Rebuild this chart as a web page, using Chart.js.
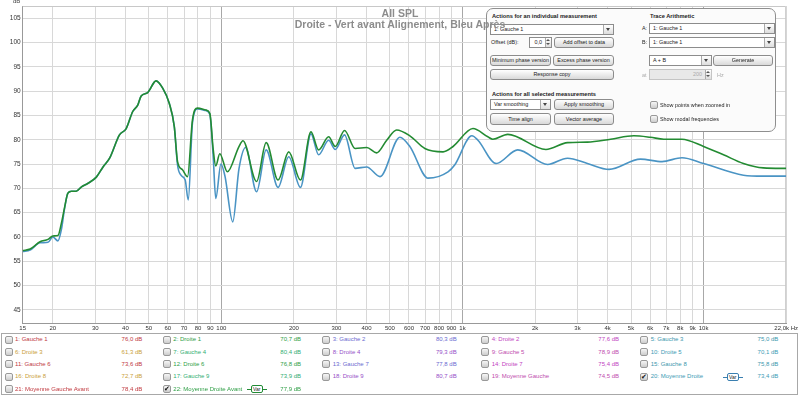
<!DOCTYPE html>
<html>
<head>
<meta charset="utf-8">
<script src="https://cdn.jsdelivr.net/npm/chart.js@4.4.1/dist/chart.umd.min.js"></script>
<style>
body { margin: 0; background: #fff; font-family: "Liberation Sans", Arial, sans-serif; }
#wrap { position: relative; width: 800px; height: 397px; overflow: hidden; }
#chart { position: absolute; left: 0; top: 0; }
.t { position: absolute; white-space: nowrap; font-size: 6px; line-height: 7px; color: #222; }
.p { font-size: 5.4px; }
.b { font-weight: bold; font-size: 5.7px; }
.title { position: absolute; left: 0; width: 800px; text-align: center; font-size: 10.5px; font-weight: bold; color: #8c8c8c; white-space: nowrap; z-index: 5; }
.panel { position: absolute; left: 486px; top: 8px; width: 290px; height: 124px; box-sizing: border-box; border: 1px solid #8f8f8f; border-radius: 7px; background: #fbfbfb; }
.btn { position: absolute; box-sizing: border-box; height: 11px; border: 1px solid #8c8c8c; border-radius: 3px; background: linear-gradient(#ffffff, #d9d9d9); font-size: 5.4px; line-height: 9px; text-align: center; color: #222; white-space: nowrap; overflow: hidden; }
.sel { position: absolute; box-sizing: border-box; height: 11px; border: 1px solid #8c8c8c; background: #fff; font-size: 5.4px; line-height: 9px; padding-left: 3px; color: #222; white-space: nowrap; }
.sel i { position: absolute; right: 0; top: 0; width: 9px; height: 9px; border-left: 1px solid #aaa; background: linear-gradient(#fff, #ddd); }
.sel i:after { content: ""; position: absolute; left: 2px; top: 3px; border-left: 2.5px solid transparent; border-right: 2.5px solid transparent; border-top: 3px solid #444; }
.spin { text-align: right; padding-right: 9px; }
.spin i { width: 5px; }
.spin i:after { left: 0; top: 1px; border-top: none; border-bottom: 2px solid #555; border-left-width: 2px; border-right-width: 2px; }
.spin i:before { content: ""; position: absolute; left: 0; top: 5px; border-left: 2px solid transparent; border-right: 2px solid transparent; border-top: 2px solid #555; }
.dis { background: #e8e8e8; color: #aaa; border-color: #c4c4c4; }
.cb { position: absolute; box-sizing: border-box; width: 8px; height: 8px; border: 1px solid #999; border-radius: 2px; background: linear-gradient(#f6f6f6, #cdcdcd); font-size: 7px; line-height: 6px; text-align: center; color: #111; }
#leg { position: absolute; left: 1px; top: 333px; width: 797px; height: 62px; box-sizing: border-box; border: 1px solid #a8a8a8; background: #fff; }
.var { position: absolute; height: 8px; }
.var .ln { position: absolute; left: 0; right: 0; top: 4px; height: 1px; }
.var .bx { position: absolute; left: 4px; right: 4px; top: 0; height: 8px; box-sizing: border-box; border: 1px solid; border-radius: 2px; background: #fff; font-size: 5px; line-height: 6px; text-align: center; color: #222; }
</style>
</head>
<body>
<div id="wrap">
  <canvas id="chart" width="800" height="333"></canvas>

  <div class="t" style="left:13px;top:-2px;color:#444">dB</div>

  <div class="panel"></div>
  <div class="t b" style="left:492px;top:13px">Actions for an individual measurement</div>
  <div class="sel" style="left:490px;top:24px;width:124px">1: Gauche 1<i></i></div>
  <div class="t p" style="left:491px;top:39px">Offset (dB):</div>
  <div class="sel spin" style="left:529px;top:37px;width:23px">0,0<i></i></div>
  <div class="btn" style="left:554px;top:37px;width:60px">Add offset to data</div>
  <div class="btn" style="left:490px;top:55px;width:61px">Minimum phase version</div>
  <div class="btn" style="left:553px;top:55px;width:61px">Excess phase version</div>
  <div class="btn" style="left:490px;top:69px;width:124px">Response copy</div>
  <div class="t b" style="left:492px;top:91px">Actions for all selected measurements</div>
  <div class="sel" style="left:490px;top:99px;width:61px">Var smoothing<i></i></div>
  <div class="btn" style="left:554px;top:99px;width:60px">Apply smoothing</div>
  <div class="btn" style="left:490px;top:113px;width:61px;height:12px;line-height:10px">Time align</div>
  <div class="btn" style="left:554px;top:113px;width:60px;height:12px;line-height:10px">Vector average</div>

  <div class="t b" style="left:650px;top:13px">Trace Arithmetic</div>
  <div class="t p" style="left:642px;top:25px">A:</div>
  <div class="sel" style="left:649px;top:23px;width:126px">1: Gauche 1<i></i></div>
  <div class="t p" style="left:642px;top:39px">B:</div>
  <div class="sel" style="left:649px;top:37px;width:126px">1: Gauche 1<i></i></div>
  <div class="sel" style="left:649px;top:55px;width:63px">A + B<i></i></div>
  <div class="btn" style="left:713px;top:55px;width:60px">Generate</div>
  <div class="t p" style="left:642px;top:72px;color:#aaa">at</div>
  <div class="sel spin dis" style="left:649px;top:69px;width:63px">200<i></i></div>
  <div class="t p" style="left:717px;top:72px;color:#aaa">Hz</div>
  <div class="cb" style="left:650px;top:101px"></div>
  <div class="t p" style="left:660px;top:102px">Show points when zoomed in</div>
  <div class="cb" style="left:650px;top:115px"></div>
  <div class="t p" style="left:660px;top:116px">Show modal frequencies</div>

  <div class="title" style="top:7px">All SPL</div>
  <div class="title" style="top:18px">Droite - Vert avant Alignement, Bleu Après</div>

  <div id="leg"></div>
</div>

<script>
// 22: Moyenne Droite Avant (green) and 20: Moyenne Droite (blue)
var greenFreq = [15, 16.1, 17.7, 19.1, 20.0, 21.0, 21.7, 22.4, 23.1, 23.9, 25.0, 26.3, 27.9, 30.3, 32.3, 34.4, 37.8, 40.3, 42.9, 45.0,
    46.5, 49.5, 53.6, 57.1, 60.8, 63.8, 65.8, 69.0, 72.4, 75.9, 79.6, 86.2, 89.6, 92.5, 94.8, 98.5, 105.9, 118.3, 122.9, 140,
    153.4, 171.9, 190.3, 212.8, 235.3, 253.2, 278.5, 296.7, 324.2, 358.8, 400.7, 440.7, 485, 533, 605, 698, 831, 914, 1105, 1274,
    1336, 1541, 2218, 2727, 3298, 4115, 5140, 6018, 6837, 8136, 10000, 12090, 14630, 17690, 22000];
var greenDb = [57.2, 57.5, 59.0, 59.5, 60.2, 60.3, 62.8, 66.2, 69.0, 69.4, 69.4, 70.3, 71.0, 72.3, 74.4, 76.2, 81.0, 82.3, 85.8, 87.1,
    89.0, 89.7, 92.1, 90.6, 87.5, 82.7, 75.5, 73.8, 72.4, 84.1, 86.5, 86.1, 85.4, 78.0, 74.6, 77.1, 73.4, 78.6, 79.8, 71.4,
    79.4, 71.7, 77.5, 71.7, 81.6, 77.9, 80.6, 78.6, 81.9, 78.2, 78.4, 77.3, 79.9, 82.0, 80.8, 78.2, 77.5, 78.6, 82.3, 80.6,
    80.1, 81.1, 78.0, 79.4, 79.5, 80.1, 80.8, 80.5, 80.1, 80.1, 78.6, 76.9, 75.1, 74.2, 74.1];

var blueFreq = [15, 16.1, 17.7, 19.1, 20.0, 21.0, 21.7, 22.4, 23.1, 23.9, 25.0, 26.3, 27.9, 30.3, 32.3, 34.4, 37.8, 40.3, 42.9, 45.0,
    46.5, 49.5, 53.6, 57.1, 60.8, 63.8, 65.8, 68.0, 70.8, 72.9, 75.9, 79.6, 86.2, 89.6, 92.5, 94.8, 99.6, 103.5, 111.5, 118.3,
    126.1, 140, 153.4, 171.9, 190.3, 212.8, 235.3, 253.2, 278.5, 296.7, 324.2, 358.8, 400.7, 455, 550, 605, 720, 871, 928, 1094,
    1159, 1379, 1695, 2254, 2727, 3298, 4053, 5472, 6727, 8136, 10000, 14630, 17690, 22000];
var blueDb = [57.0, 57.3, 58.8, 58.9, 60.0, 59.2, 61.5, 66.0, 69.0, 69.4, 69.4, 70.3, 71.0, 72.3, 74.4, 76.2, 81.0, 82.3, 85.8, 87.1,
    89.0, 89.7, 92.1, 90.6, 87.5, 82.7, 74.8, 72.7, 71.7, 67.6, 83.5, 86.3, 86.0, 85.2, 76.5, 67.9, 75.0, 72.5, 63.1, 74.0,
    78.4, 69.3, 77.9, 70.2, 76.5, 70.2, 81.2, 76.9, 79.9, 78.0, 81.0, 74.1, 74.4, 72.4, 80.5, 78.6, 72.1, 73.4, 74.8, 80.8,
    79.9, 75.1, 77.9, 74.9, 76.2, 75.1, 73.9, 76.0, 75.5, 76.3, 75.1, 72.7, 72.5, 72.5];

var xTicks = [15, 20, 30, 40, 50, 60, 70, 80, 90, 100, 200, 300, 400, 500, 600, 700, 800, 900,
    1000, 2000, 3000, 4000, 5000, 6000, 7000, 8000, 9000, 10000, 22000];
var xTickLabels = ['15', '20', '30', '40', '50', '60', '70', '80', '90', '100', '200', '300', '400', '500', '600', '700', '800', '900',
    '1k', '2k', '3k', '4k', '5k', '6k', '7k', '8k', '9k', '10k', '22,0k Hz'];
var yTicks = [45, 50, 55, 60, 65, 70, 75, 80, 85, 90, 95, 100, 105];

var legendNames = ['Gauche 1', 'Droite 1', 'Gauche 2', 'Droite 2', 'Gauche 3', 'Droite 3', 'Gauche 4', 'Droite 4', 'Gauche 5', 'Droite 5',
    'Gauche 6', 'Droite 6', 'Gauche 7', 'Droite 7', 'Gauche 8', 'Droite 8', 'Gauche 9', 'Droite 9', 'Moyenne Gauche', 'Moyenne Droite',
    'Moyenne Gauche Avant', 'Moyenne Droite Avant'];
var legendValues = ['76,0', '70,7', '80,3', '77,6', '75,0', '61,3', '80,4', '79,3', '78,9', '70,1',
    '73,6', '76,8', '77,8', '75,4', '75,8', '72,7', '73,9', '80,7', '74,5', '73,4', '78,4', '77,9'];
var legendChecked = [20, 22];
var traceColors = ['#c0393f', '#2e9e45', '#6b6bd0', '#bf45bf', '#3b97ad', '#c9a03a', '#2fae72', '#9550c8', '#c04cae', '#3d9bb5'];

function toPoints(freqs, dbs) {
    return freqs.map(function (f, i) { return { x: f, y: dbs[i] }; });
}

// top and right border of the plot
var frame = {
    id: 'frame',
    beforeDatasetsDraw: function (chart) {
        var a = chart.chartArea, ctx = chart.ctx;
        ctx.save();
        ctx.strokeStyle = '#c8c8c8';
        ctx.lineWidth = 1;
        ctx.beginPath();
        ctx.moveTo(a.left, a.top + 0.5);
        ctx.lineTo(a.right - 0.5, a.top + 0.5);
        ctx.lineTo(a.right - 0.5, a.bottom);
        ctx.stroke();
        ctx.restore();
    }
};

var ctx = document.getElementById('chart').getContext('2d');
var chart = new Chart(ctx, {
    type: 'line',
    data: {
        datasets: [{
            label: '22: Moyenne Droite Avant',
            data: toPoints(greenFreq, greenDb),
            borderColor: '#238b32',
            borderWidth: 1.6,
            pointRadius: 0,
            cubicInterpolationMode: 'monotone',
            order: 0
        }, {
            label: '20: Moyenne Droite',
            data: toPoints(blueFreq, blueDb),
            borderColor: '#4a94c4',
            borderWidth: 1.6,
            pointRadius: 0,
            cubicInterpolationMode: 'monotone',
            order: 1
        }]
    },
    options: {
        responsive: false,
        animation: false,
        events: [],
        layout: { padding: { left: 0, top: 6, right: 10.4, bottom: 0 } },
        plugins: {
            legend: { display: false },
            tooltip: { enabled: false },
            title: { display: false }
        },
        scales: {
            x: {
                type: 'logarithmic',
                min: 15,
                max: 22000,
                afterBuildTicks: function (axis) {
                    axis.ticks = xTicks.map(function (v) { return { value: v }; });
                },
                afterFit: function (axis) { axis.height = 10; },
                ticks: {
                    autoSkip: false,
                    maxRotation: 0,
                    padding: 2,
                    color: '#333',
                    font: { size: 6, family: 'Liberation Sans' },
                    callback: function (value, index) { return xTickLabels[index]; }
                },
                grid: {
                    drawTicks: false,
                    color: function (c) {
                        var v = c.tick && c.tick.value;
                        return (v === 100 || v === 1000 || v === 10000) ? '#a8a8a8' : '#d8d8d8';
                    }
                },
                border: { color: '#999' }
            },
            y: {
                min: 42.3,
                max: 107.5,
                afterBuildTicks: function (axis) {
                    axis.ticks = yTicks.map(function (v) { return { value: v }; });
                },
                afterFit: function (axis) { axis.width = 22.7; },
                ticks: {
                    padding: 2,
                    color: '#333',
                    font: { size: 6.5, family: 'Liberation Sans' }
                },
                grid: { drawTicks: false, color: '#d8d8d8' },
                border: { color: '#999' }
            }
        }
    },
    plugins: [frame]
});

// measurement list under the graph
var wrap = document.getElementById('wrap');
var rowY = [339.5, 352, 364.3, 376.7, 389];
var cbX = [4.5, 162.7, 321.7, 481, 640];
var nameX = [15, 173.3, 332.7, 491.7, 650.7];
var valRight = [142.3, 301, 456.7, 619, 778.3];
var varX = { 20: 722.7, 22: 246.7 };
var varColor = { 20: '#3a7fb0', 22: '#228a35' };

function addEl(cls, style, text) {
    var el = document.createElement('div');
    el.className = cls;
    el.style.cssText = style;
    if (text) el.textContent = text;
    wrap.appendChild(el);
    return el;
}

legendNames.forEach(function (name, i) {
    var num = i + 1;
    var row = Math.floor(i / 5), col = i % 5;
    var cy = rowY[row];
    var color = traceColors[i % 10];
    var checked = legendChecked.indexOf(num) >= 0;
    addEl('cb', 'left:' + cbX[col] + 'px;top:' + (cy - 4) + 'px', checked ? '\u2714' : '');
    addEl('t', 'left:' + nameX[col] + 'px;top:' + (cy - 3.5) + 'px;color:' + color, num + ': ' + name);
    addEl('t', 'left:' + (valRight[col] - 40) + 'px;width:40px;text-align:right;top:' + (cy - 3.5) + 'px;color:' + color,
        legendValues[i] + ' dB');
    if (varX[num]) {
        var badge = addEl('var', 'left:' + varX[num] + 'px;top:' + (cy - 4) + 'px;width:20px');
        badge.innerHTML = '<div class="ln" style="background:' + varColor[num] + '"></div>' +
            '<div class="bx" style="border-color:' + varColor[num] + '">Var</div>';
    }
});
</script>
</body>
</html>
